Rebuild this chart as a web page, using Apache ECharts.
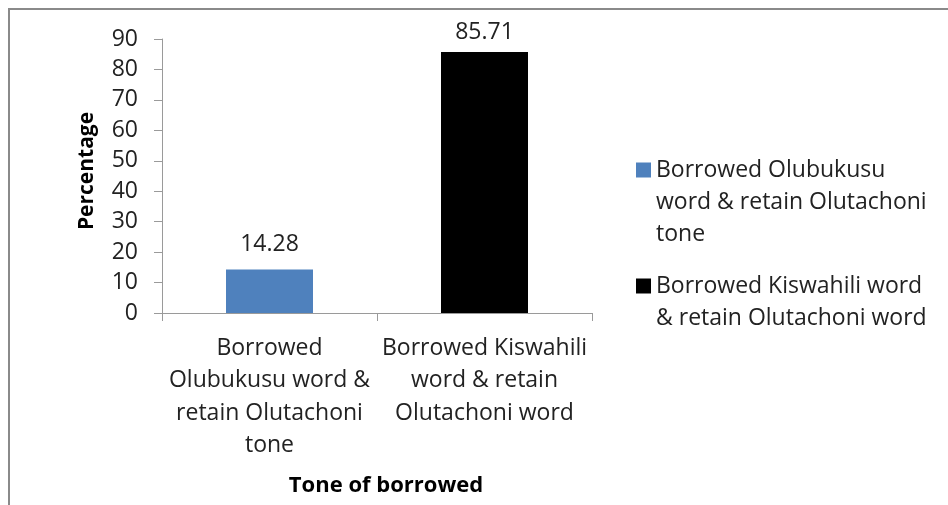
<!DOCTYPE html>
<html>
<head>
<meta charset="utf-8">
<style>
  html, body { margin: 0; padding: 0; background: #fff; }
  #chart { width: 948px; height: 505px; }
</style>
<script src="https://cdn.jsdelivr.net/npm/echarts@6/dist/echarts.min.js"></script>
</head>
<body>
<div id="chart"></div>
<script>
// Categories on the x axis (also used as legend entries)
const categories = [
  'Borrowed\nOlubukusu word &\nretain Olutachoni\ntone',
  'Borrowed Kiswahili\nword & retain\nOlutachoni word'
];
const legendNames = [
  'Borrowed Olubukusu\nword & retain Olutachoni\ntone',
  'Borrowed Kiswahili word\n& retain Olutachoni word'
];
// Percentage values per category
const olubukusuValues = [14.28, '-'];
const kiswahiliValues = ['-', 85.71];
const barColors = ['#4F81BD', '#000000'];

const FONT = 'Open Sans';
const FS = 23;
const LEGEND_LH = 32;
const chart = echarts.init(document.getElementById('chart'));

// The legend centres its text on the icon; leading blank lines make the
// first line of each wrapped name the middle one, so it sits beside the icon.
function legendText(name) {
  const lines = name.split('\n').length;
  return '\n'.repeat(lines - 1) + name;
}

chart.setOption({
  animation: false,
  textStyle: { fontFamily: FONT },
  graphic: [{
    type: 'rect',
    shape: { x: 9, y: 9, width: 980, height: 540 },
    style: { fill: 'none', stroke: '#8a8a8a', lineWidth: 2 }
  }],
  grid: { left: 162, right: 356, top: 39, bottom: 192 },
  legend: {
    orient: 'vertical',
    left: 631,
    top: 85,
    itemWidth: 15,
    itemHeight: 15,
    itemGap: -12,
    icon: 'rect',
    data: legendNames,
    formatter: legendText,
    textStyle: {
      fontFamily: FONT,
      fontSize: FS,
      color: '#222',
      lineHeight: LEGEND_LH
    }
  },
  xAxis: {
    type: 'category',
    data: categories,
    name: 'Tone of borrowed',
    nameLocation: 'middle',
    nameGap: 162,
    nameTextStyle: { fontFamily: FONT, fontSize: 22, fontWeight: 'bold', color: '#000', padding: [0, 0, 0, 18] },
    axisLine: { lineStyle: { color: '#9a9a9a', width: 1 } },
    axisTick: { show: true, alignWithLabel: false, length: 8, lineStyle: { color: '#9a9a9a' } },
    axisLabel: {
      interval: 0,
      margin: 19,
      fontFamily: FONT,
      fontSize: FS,
      lineHeight: 32.5,
      color: '#222',
      align: 'center'
    }
  },
  yAxis: {
    type: 'value',
    min: 0,
    max: 90,
    interval: 10,
    name: 'Percentage',
    nameLocation: 'middle',
    nameGap: 64,
    nameRotate: 90,
    nameTextStyle: { fontFamily: FONT, fontSize: 21, fontWeight: 'bold', color: '#000', padding: [0, 0, 0, 10] },
    splitLine: { show: false },
    axisLine: { show: true, lineStyle: { color: '#9a9a9a', width: 1 } },
    axisTick: { show: true, length: 8, lineStyle: { color: '#9a9a9a' } },
    axisLabel: { fontFamily: FONT, fontSize: FS, color: '#222', margin: 24 }
  },
  series: [
    {
      name: legendNames[0],
      type: 'bar',
      stack: 'tone',
      barWidth: 87,
      data: olubukusuValues,
      itemStyle: { color: barColors[0] },
      label: {
        show: true, position: 'top', distance: 14,
        fontFamily: FONT, fontSize: FS, color: '#222',
        formatter: p => p.value.toFixed(2)
      }
    },
    {
      name: legendNames[1],
      type: 'bar',
      stack: 'tone',
      barWidth: 87,
      data: kiswahiliValues,
      itemStyle: { color: barColors[1] },
      label: {
        show: true, position: 'top', distance: 8,
        fontFamily: FONT, fontSize: FS, color: '#222',
        formatter: p => p.value.toFixed(2)
      }
    }
  ]
});
</script>
</body>
</html>
